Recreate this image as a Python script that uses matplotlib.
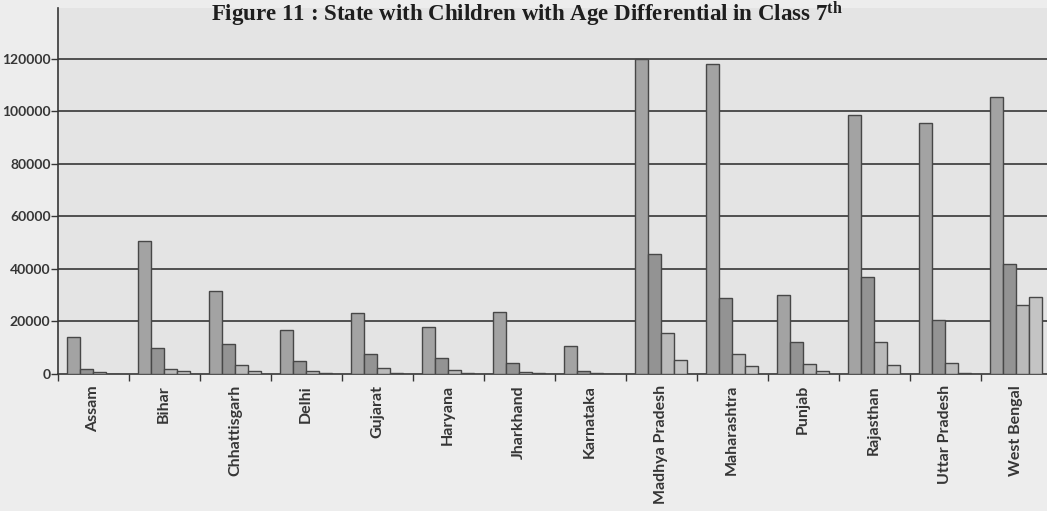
import numpy as np
import matplotlib
matplotlib.use("Agg")
import matplotlib.pyplot as plt
from matplotlib.ticker import FixedLocator, NullFormatter

# ---- data -------------------------------------------------------------
states = ["Assam", "Bihar", "Chhattisgarh", "Delhi", "Gujarat", "Haryana",
          "Jharkhand", "Karnataka", "Madhya Pradesh", "Maharashtra",
          "Punjab", "Rajasthan", "Uttar Pradesh", "West Bengal"]

series_1 = [14000, 50500, 31500, 16800, 23200, 18000, 23800, 10500,
            120000, 118000, 30200, 98500, 95500, 105500]
series_2 = [2000, 10000, 11500, 5000, 7700, 6000, 4000, 1100,
            45600, 29000, 12000, 37000, 20500, 42000]
series_3 = [600, 2000, 3300, 1300, 2200, 1500, 900, 300,
            15500, 7700, 3700, 12000, 4300, 26300]
series_4 = [150, 1100, 1000, 300, 500, 400, 300, 100,
            5500, 3000, 1200, 3500, 500, 29400]

y_ticks = [0, 20000, 40000, 60000, 80000, 100000, 120000]

title = "Figure 11 : State with Children with Age Differential in Class $\\mathbf{7^{th}}$"

# ---- styling ----------------------------------------------------------
plt.rcParams["mathtext.fontset"] = "custom"
plt.rcParams["mathtext.bf"] = "Liberation Serif:bold"
plt.rcParams["mathtext.rm"] = "Liberation Serif:bold"

W, H = 1047, 511
fig = plt.figure(figsize=(W / 100, H / 100), dpi=100)
fig.patch.set_facecolor("#ededed")

x_left_px, x_right_px = 57.5, 1051.5
y_base_px, y_top_px = 374, 8
ax = fig.add_axes([x_left_px / W, (H - y_base_px) / H,
                   (x_right_px - x_left_px) / W, (y_base_px - y_top_px) / H])
ax.set_facecolor("#e4e4e4")

series = [series_1, series_2, series_3, series_4]
colors = ["#a3a3a3", "#939393", "#bababa", "#c4c4c4"]
bar_w = 0.183
x = np.arange(len(states))
for k, (vals, col) in enumerate(zip(series, colors)):
    ax.bar(x + (k - 1.5) * bar_w, vals, width=bar_w, color=col,
           edgecolor="#474747", linewidth=1.0, zorder=3)

ax.set_xlim(-0.5, len(states) - 0.5)
ax.set_ylim(0, 139400)

# horizontal gridlines
ax.yaxis.set_major_locator(FixedLocator(y_ticks))
for v in y_ticks[1:]:
    ax.axhline(v, color="#363636", linewidth=1.2, zorder=1)

for side in ("top", "right"):
    ax.spines[side].set_visible(False)
for side in ("left", "bottom"):
    ax.spines[side].set_color("#363636")
    ax.spines[side].set_linewidth(1.2)

y_font = dict(family="Lato", weight="bold", size=10, color="#363636")
x_font = dict(family="Lato", weight="bold", size=11.5, color="#363636")
ax.set_yticklabels([str(v) for v in y_ticks], **y_font)
ax.tick_params(axis="y", direction="out", length=5, width=1, color="#363636", pad=0)

# category labels at group centres, tick marks at group boundaries
ax.set_xticks(x)
ax.set_xticklabels(states, rotation=90, va="top", ha="center", **x_font)
ax.tick_params(axis="x", which="major", length=0, pad=8)
ax.xaxis.set_minor_locator(FixedLocator(np.arange(len(states) + 1) - 0.5))
ax.xaxis.set_minor_formatter(NullFormatter())
ax.tick_params(axis="x", which="minor", direction="out", length=5, width=1,
               color="#363636")

fig.text(527 / W, 1 - 21 / H, title, ha="center", va="baseline",
         family="Liberation Serif", weight="bold", size=16.5, color="#1e1e1e")

fig.savefig("out.png", dpi=100, facecolor=fig.get_facecolor())
